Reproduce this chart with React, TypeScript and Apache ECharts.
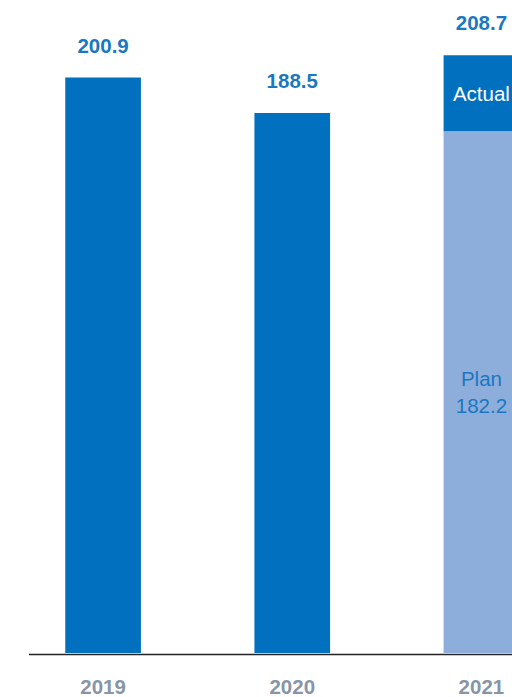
import React, { useEffect, useRef } from "react";
import * as echarts from "echarts";

const categories = ["2019", "2020", "2021"];
const baseValues = [200.9, 188.5, 182.2];
const actualExtra: (number | string)[] = ["-", "-", 26.5];
const totals = [200.9, 188.5, 208.7];
const planIndex = 2;

const DARK = "#0070BF";
const LIGHT = "#8DADDA";
const LABEL_BLUE = "#1A78C2";
const YEAR_GRAY = "#8795A6";
const FONT = "Liberation Sans, Arial, sans-serif";
const FS = 20.5;

export default function App() {
  const ref = useRef<HTMLDivElement>(null);
  useEffect(() => {
    if (!ref.current) return;
    const chart = echarts.init(ref.current, undefined, { renderer: "svg" });
    chart.setOption({
      animation: false,
      textStyle: { fontFamily: FONT },
      grid: { left: 8.5, top: 20, bottom: 43, right: 0, containLabel: false },
      xAxis: {
        type: "category",
        data: categories,
        axisLine: { show: false },
        axisTick: { show: false },
        axisLabel: {
          color: YEAR_GRAY,
          fontSize: FS,
          fontWeight: "bold",
          fontFamily: FONT,
          margin: 23,
        },
      },
      yAxis: { type: "value", min: 0, max: 221, show: false, splitLine: { show: false } },
      graphic: [
        {
          type: "line",
          shape: { x1: 29, y1: 654.5, x2: 580, y2: 654.5 },
          style: { stroke: "#222222", lineWidth: 1.3 },
          z: 10,
        },
      ],
      series: [
        {
          type: "bar",
          stack: "s",
          barWidth: "40%",
          data: baseValues.map((v, i) => ({
            value: v,
            itemStyle: { color: i === planIndex ? LIGHT : DARK },
            label:
              i === planIndex
                ? {
                    show: true,
                    position: "inside",
                    formatter: "Plan\n" + v.toFixed(1),
                    color: LABEL_BLUE,
                    fontSize: FS,
                    lineHeight: 27,
                    fontFamily: FONT,
                  }
                : { show: false },
          })),
        },
        {
          type: "bar",
          stack: "s",
          barWidth: "40%",
          itemStyle: { color: DARK },
          label: {
            show: true,
            position: "inside",
            formatter: "Actual",
            color: "#ffffff",
            fontSize: FS,
            fontFamily: FONT,
          },
          data: actualExtra,
        },
        {
          type: "bar",
          stack: "s",
          barWidth: "40%",
          itemStyle: { color: "transparent" },
          label: {
            show: true,
            position: "top",
            distance: 22,
            color: LABEL_BLUE,
            fontSize: FS,
            fontWeight: "bold",
            fontFamily: FONT,
            formatter: (p: any) => totals[p.dataIndex].toFixed(1),
          },
          data: totals.map(() => 0),
        },
      ],
    });
    return () => chart.dispose();
  }, []);
  return (
    <div
      ref={ref}
      style={{ position: "fixed", left: 0, top: 0, width: 576, height: 697, background: "#fff" }}
    />
  );
}
